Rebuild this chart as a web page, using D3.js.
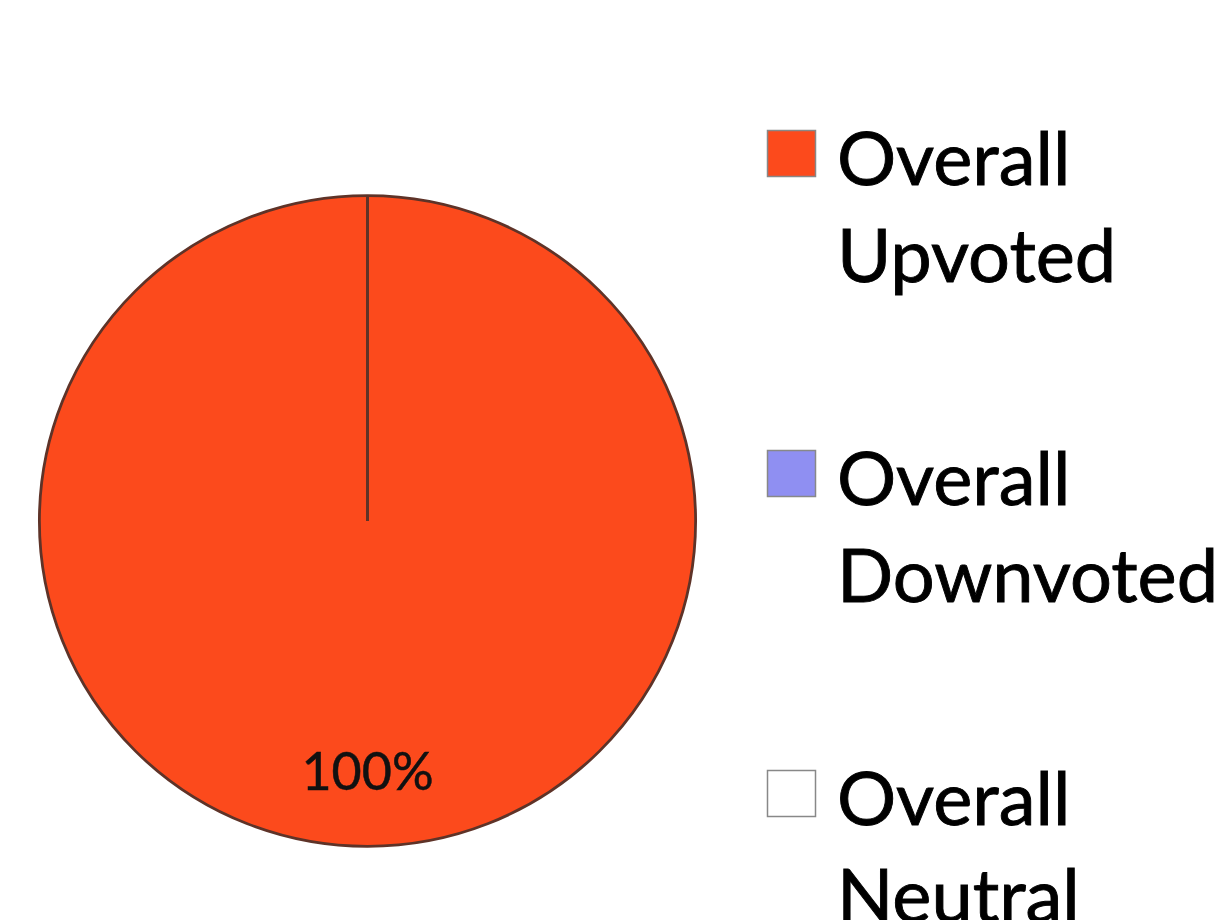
<!DOCTYPE html>
<html lang="en">
<head>
  <meta charset="UTF-8">
  <title>Overall votes</title>
  <script src="https://d3js.org/d3.v7.min.js"></script>
  <style>
    body {
      margin: 0;
      background: white;
      font-family: Lato, "Open Sans", sans-serif;
    }
  </style>
</head>
<body>
  <svg width="1228" height="920"></svg>

  <script>
    // data
    const categories = ["Overall Upvoted", "Overall Downvoted", "Overall Neutral"];
    const values = [100, 0, 0];
    const colors = ["#fc4a1c", "#8f8ff2", "#ffffff"];

    const svg = d3.select("svg");
    const cx = 367.5, cy = 521, radius = 328;

    const total = d3.sum(values);
    const slices = d3.pie().sort(null)(values);

    const arc = d3.arc().innerRadius(0).outerRadius(radius);
    const labelArc = d3.arc().innerRadius(radius * 0.77).outerRadius(radius * 0.77);

    const g = svg.append("g")
      .attr("transform", `translate(${cx},${cy}) scale(1,0.992)`);

    g.selectAll(".slice")
      .data(slices)
      .enter()
      .append("path")
      .attr("class", "slice")
      .attr("d", arc)
      .attr("fill", (d, i) => colors[i])
      .attr("stroke", "#5e3328")
      .attr("stroke-width", 2.8);

    g.selectAll(".label")
      .data(slices.filter(d => d.value > 0))
      .enter()
      .append("text")
      .attr("class", "label")
      .attr("transform", d => `translate(${labelArc.centroid(d)}) scale(1,${1 / 0.992})`)
      .attr("text-anchor", "middle")
      .attr("dy", "0.35em")
      .attr("font-size", 52)
      .attr("fill", "#111")
      .attr("stroke", "#111")
      .attr("stroke-width", 0.5)
      .text(d => Math.round(d.value / total * 100) + "%");

    // legend
    const legend = svg.append("g").attr("transform", "translate(767,130)");
    const item = legend.selectAll(".item")
      .data(categories)
      .enter()
      .append("g")
      .attr("class", "item")
      .attr("transform", (d, i) => `translate(0,${i * 320})`);

    item.append("rect")
      .attr("x", 0.5)
      .attr("y", 0.5)
      .attr("width", 48)
      .attr("height", 46)
      .attr("fill", (d, i) => colors[i])
      .attr("stroke", "#888")
      .attr("stroke-width", 1.5);

    item.append("text")
      .attr("x", 70)
      .attr("y", 55)
      .attr("font-size", 74)
      .attr("fill", "#000")
      .attr("stroke", "#000")
      .attr("stroke-width", 0.9)
      .selectAll("tspan")
      .data(d => d.split(" "))
      .enter()
      .append("tspan")
      .attr("x", 70)
      .attr("dy", (d, i) => i === 0 ? 0 : 97)
      .text(d => d);
  </script>
</body>
</html>
